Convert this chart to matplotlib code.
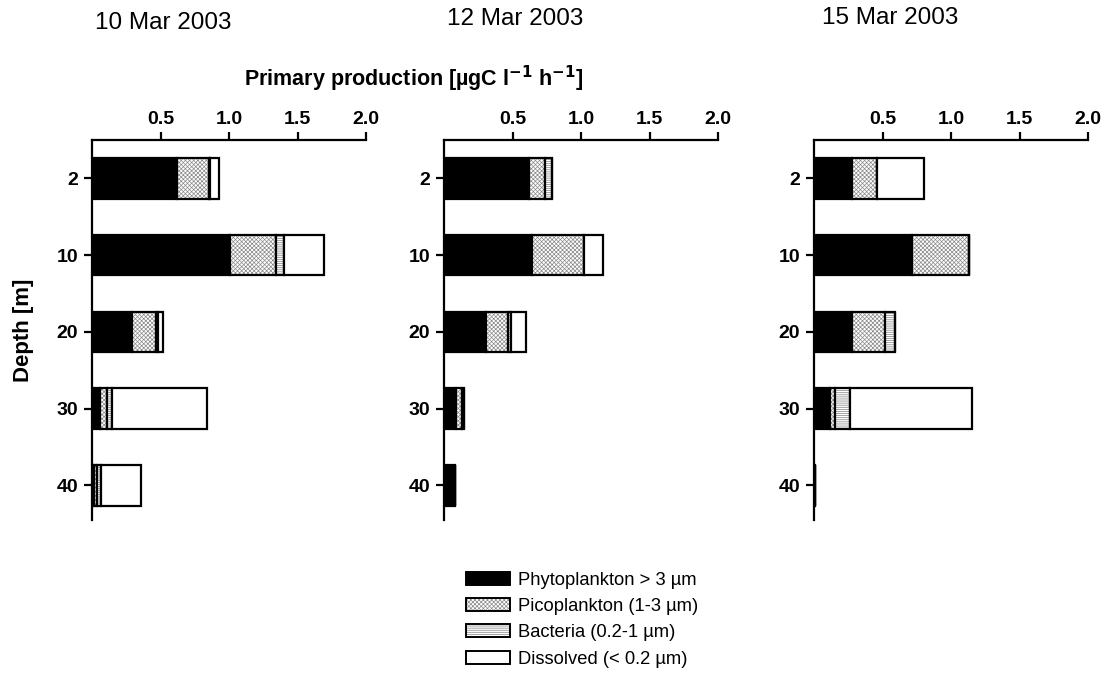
import matplotlib
matplotlib.use("Agg")
import matplotlib.pyplot as plt
from matplotlib.patches import Patch
import numpy as np

plt.rcParams['font.family'] = ['Liberation Sans', 'DejaVu Sans']
plt.rcParams['hatch.linewidth'] = 0.5

depths = ["2", "10", "20", "30", "40"]
dates = ["10 Mar 2003", "12 Mar 2003", "15 Mar 2003"]
series_names = ["Phytoplankton > 3 µm", "Picoplankton (1-3 µm)",
                "Bacteria (0.2-1 µm)", "Dissolved (< 0.2 µm)"]

# values per date: rows = depth, in the order of series
phyto_10 = [0.62, 1.01, 0.295, 0.058, 0.012]
pico_10 = [0.235, 0.33, 0.17, 0.05, 0.022]
bact_10 = [0.005, 0.06, 0.02, 0.04, 0.032]
diss_10 = [0.065, 0.29, 0.03, 0.69, 0.294]

phyto_12 = [0.62, 0.64, 0.31, 0.09, 0.08]
pico_12 = [0.12, 0.38, 0.16, 0.04, 0.0]
bact_12 = [0.045, 0.0, 0.02, 0.015, 0.0]
diss_12 = [0.0, 0.14, 0.11, 0.0, 0.0]

phyto_15 = [0.28, 0.715, 0.28, 0.117, 0.006]
pico_15 = [0.18, 0.415, 0.24, 0.038, 0.0]
bact_15 = [0.0, 0.0, 0.07, 0.105, 0.0]
diss_15 = [0.34, 0.0, 0.0, 0.89, 0.0]

panels = [
    (phyto_10, pico_10, bact_10, diss_10),
    (phyto_12, pico_12, bact_12, diss_12),
    (phyto_15, pico_15, bact_15, diss_15),
]

xticks = [0.5, 1.0, 1.5, 2.0]
xticklabels = ["0.5", "1.0", "1.5", "2.0"]

styles = [
    dict(facecolor='black', hatch=None, hcolor=None),
    dict(facecolor='white', hatch='xxxxxxxx', hcolor='#8a8a8a'),
    dict(facecolor='white', hatch='--------', hcolor='#808080'),
    dict(facecolor='white', hatch=None, hcolor=None),
]

W, H = 1107, 690
fig = plt.figure(figsize=(W / 100, H / 100), dpi=100)

lefts = [92, 444, 814]
ax_w = 274
top_px, bot_px = 140, 520
title_x = [163, 515, 890]
title_y = [23, 19, 18]

ypos = np.arange(len(depths))
bar_h = 0.53

for i, (vals, left) in enumerate(zip(panels, lefts)):
    ax = fig.add_axes([left / W, 1 - bot_px / H, ax_w / W, (bot_px - top_px) / H])
    base = np.zeros(len(depths))
    for s, st in zip(vals, styles):
        v = np.array(s)
        if st['hatch']:
            ax.barh(ypos, v, left=base, height=bar_h, color='white',
                    edgecolor=st['hcolor'], hatch=st['hatch'], linewidth=0)
            ax.barh(ypos, v, left=base, height=bar_h, fill=False,
                    edgecolor='black', linewidth=1.6)
        else:
            ax.barh(ypos, v, left=base, height=bar_h, color=st['facecolor'],
                    edgecolor='black', linewidth=1.6)
        base = base + v
    ax.set_xlim(0, 2.0)
    ax.set_ylim(4.45, -0.5)
    ax.spines['right'].set_visible(False)
    ax.spines['bottom'].set_visible(False)
    ax.spines['left'].set_linewidth(1.6)
    ax.spines['top'].set_linewidth(1.6)
    ax.xaxis.tick_top()
    ax.set_xticks(xticks)
    ax.set_xticklabels(xticklabels, fontsize=14, fontweight='bold')
    ax.set_yticks(ypos)
    ax.set_yticklabels(depths, fontsize=14, fontweight='bold')
    ax.tick_params(axis='both', direction='out', length=6, width=1.6, pad=4)
    ax.tick_params(axis='x', pad=3)
    fig.text(title_x[i] / W, 1 - title_y[i] / H, dates[i], fontsize=17.5,
             ha='center', va='center')
    if i == 0:
        ax.set_ylabel("Depth [m]", fontsize=16, fontweight='bold', labelpad=16)

fig.text(414 / W, 1 - 79 / H, r"Primary production [µgC l$^{\mathbf{-1}}$ h$^{\mathbf{-1}}$]",
         fontsize=15.5, fontweight='bold', ha='center', va='center')

handles = []
for st, name in zip(styles, series_names):
    if st['hatch']:
        h1 = Patch(facecolor='white', edgecolor=st['hcolor'], hatch=st['hatch'],
                   linewidth=0)
        h2 = Patch(fill=False, edgecolor='black', linewidth=1.4)
        handles.append((h1, h2))
    else:
        handles.append(Patch(facecolor=st['facecolor'], edgecolor='black',
                             linewidth=1.4))
leg = fig.legend(handles=handles, labels=series_names, loc='upper left',
                 bbox_to_anchor=(466 / W, 1 - 572 / H), frameon=False,
                 fontsize=13.2, handlelength=2.4, handleheight=0.7,
                 labelspacing=0.5, handletextpad=0.45, borderaxespad=0,
                 borderpad=0)

fig.savefig("out.png", dpi=100)
